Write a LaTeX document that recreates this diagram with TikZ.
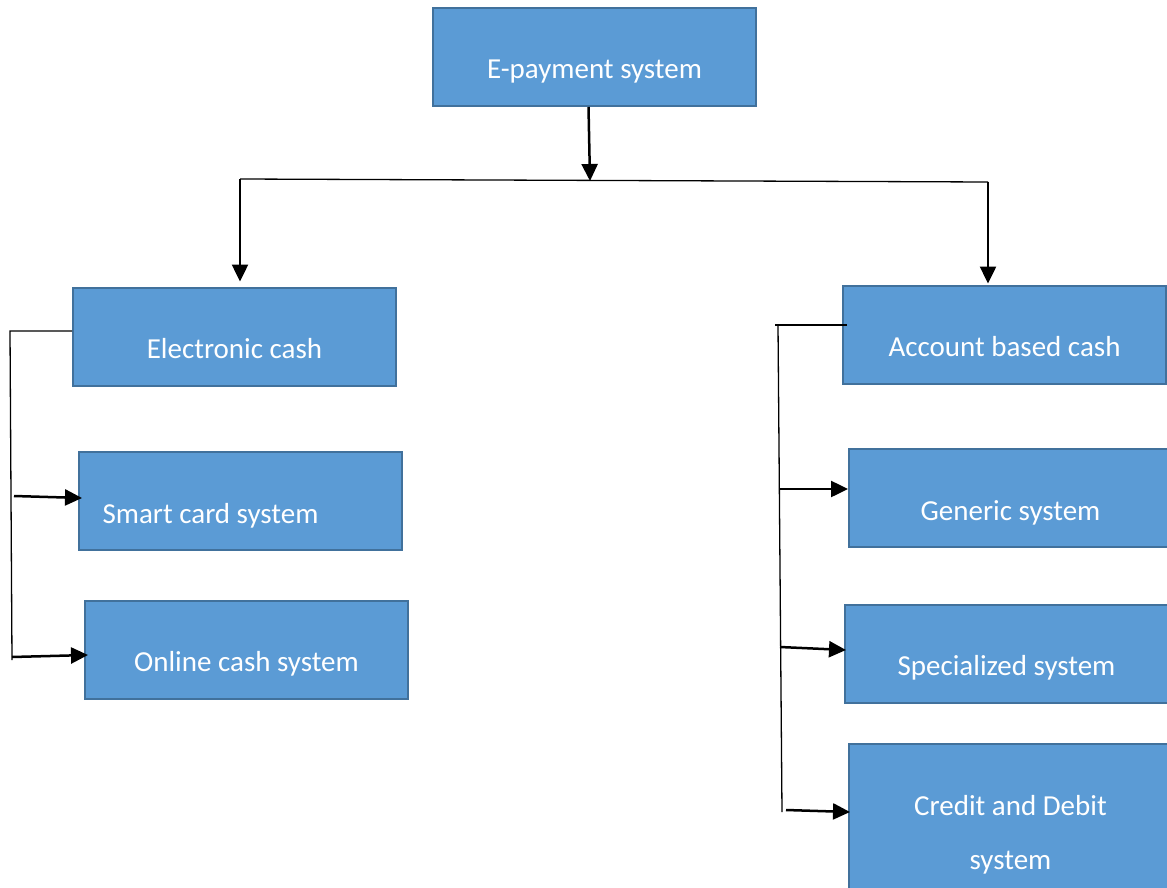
\documentclass[tikz,border=0pt]{standalone}
\usepackage{fontspec}
\setmainfont{Carlito}
\usetikzlibrary{arrows.meta,positioning}
\definecolor{boxblue}{HTML}{5B9BD5}
\definecolor{boxedge}{HTML}{41719C}
\tikzset{
  box/.style={draw=boxedge, fill=boxblue, line width=2pt, inner sep=0pt,
    minimum width=323pt, minimum height=98pt, text=white,
    font=\fontsize{29}{54}\selectfont},
  onebox/.style={box, text height=44pt, text depth=0pt},
  link/.style={line width=1.3pt},
  arr/.style={line width=2.5pt, -{Triangle[length=17pt,width=16pt]}},
}
\begin{document}
\begin{tikzpicture}[x=1pt, y=-1pt]
    \useasboundingbox (0,0) rectangle (1167,888);
    \clip (0,0) rectangle (1167,888);

    % Root
    \node[onebox] (ep) at (594.5,57) {E-payment system};

    % Left branch
    \node[onebox] (ec) at (234.5,336.5) {Electronic cash};
    \node[onebox] (sc) at (240.5,501) {Smart card system\hspace*{60pt}};
    \node[onebox] (oc) at (246.5,649.5) {Online cash system};

    % Right branch
    \node[onebox] (ab) at (1004.5,334.5) {Account based cash};
    \node[onebox] (gs) at (1010.5,498) {Generic system};
    \node[onebox] (sp) at (1006.5,653.5) {Specialized system};
    \node[box, align=center, minimum height=182pt] (cd) at (1010.5,835) {Credit and Debit\\system};

    % Split below the root
    \coordinate (hub) at (590,181);
    \coordinate (lj) at (240,179);
    \coordinate (rj) at (988,182);
    \draw[arr] ([xshift=-6pt]ep.south) -- (hub);
    \draw[link] (lj) -- (rj);
    \draw[arr] (lj) -- ([xshift=5.5pt,yshift=5pt]ec.north);
    \draw[arr] (rj) -- ([xshift=-16.5pt,yshift=1pt]ab.north);

    % Left bracket
    \coordinate (lt) at (10,331);
    \coordinate (lb) at (12,660);
    \coordinate (l1) at (14,496);
    \coordinate (l2) at (12,657);
    \draw[link] ([yshift=5.5pt]ec.west) -- (lt) -- (lb);
    \draw[arr] (l1) -- ([xshift=4pt,yshift=3pt]sc.west);
    \draw[arr] (l2) -- ([xshift=4pt,yshift=-5.5pt]oc.west);

    % Right bracket
    \coordinate (rt) at (775,325);
    \coordinate (rtop) at (778,325);
    \coordinate (rbot) at (782,812);
    \coordinate (r1) at (779,489);
    \coordinate (r2) at (780,647);
    \coordinate (r3) at (786,810);
    \draw[link] ([xshift=5pt,yshift=9.5pt]ab.west) -- (rt);
    \draw[link] (rtop) -- (rbot);
    \draw[arr] (r1) -- ([yshift=9pt]gs.west);
    \draw[arr] (r2) -- ([xshift=2pt,yshift=3.5pt]sp.west);
    \draw[arr] (r3) -- ([xshift=2pt,yshift=23pt]cd.west);
\end{tikzpicture}
\end{document}
